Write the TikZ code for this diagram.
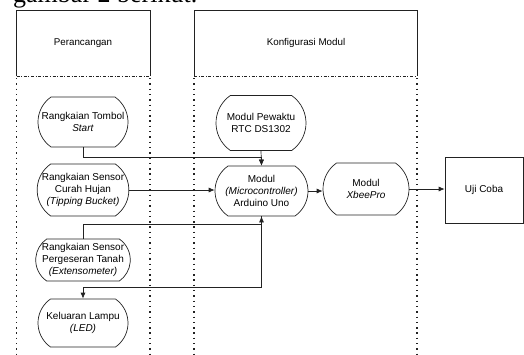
\documentclass[tikz,border=0pt]{standalone}
\usepackage{fontspec}
\setmainfont{Liberation Sans}
\newfontfamily\judulFont{Liberation Serif}
\usetikzlibrary{arrows.meta,calc,shapes.misc}
\definecolor{GarisHitam}{HTML}{222222}

\begin{document}
\begin{tikzpicture}[x=1pt,y=-1pt,
    proses/.style={draw=GarisHitam,line width=.7pt,rounded rectangle,rounded rectangle arc length=110,minimum width=90pt,minimum height=50pt,align=center,inner xsep=0pt,inner ysep=1pt,font=\fontsize{10}{12}\selectfont},
    alur/.style={-{Latex[length=6pt,width=5pt]},line width=.7pt,draw=GarisHitam},
    laneDot/.style={line width=1.8pt,dash pattern=on 1.4pt off 3.9pt,draw=GarisHitam},
    laneHead/.style={line width=.9pt,dash pattern=on 3pt off 1.6pt on 1pt off 1.6pt,draw=GarisHitam}]
    \useasboundingbox (0,0) rectangle (524,354);
    \clip (0,0) rectangle (524,354);
    % teks di atas gambar
    \node[anchor=base west,inner sep=0pt,font=\judulFont\fontsize{26}{30}\selectfont] (judul) at (13,2) {gambar 2 berikut.};
    % kolom perancangan dan konfigurasi
    \foreach \kiri/\kanan in {16.5/150,194/417}
    {
        \draw[line width=.7pt,GarisHitam] (\kiri,76) -- (\kiri,10) -- (\kanan,10) -- (\kanan,76);
        \draw[laneHead] (\kiri,76) -- (\kanan,76);
        \draw[laneDot] (\kiri,78) -- (\kiri,356);
        \draw[laneDot] (\kanan,78) -- (\kanan,356);
    }
    \node[font=\fontsize{9.8}{11}\selectfont] (hPerancangan) at (83,43) {Perancangan};
    \node[font=\fontsize{9.8}{11}\selectfont] (hKonfigurasi) at (306,43) {Konfigurasi Modul};
    % blok
    \node[proses] (tombol) at (83,122) {Rangkaian Tombol\\\textit{Start}};
    \node[proses,minimum height=52pt] (curah) at (83,190) {Rangkaian Sensor\\Curah Hujan\\\textit{(Tipping Bucket)}};
    \node[proses,minimum height=42pt] (geser) at (83,260) {Rangkaian Sensor\\Pergeseran Tanah\\\textit{(Extensometer)}};
    \node[proses,minimum height=48pt] (led) at (83,323) {Keluaran Lampu\\\textit{(LED)}};
    \node[proses,minimum height=55pt] (rtc) at (261,123) {Modul Pewaktu\\RTC DS1302};
    \node[proses,minimum width=93pt] (arduino) at (261.5,191) {Modul\\\textit{(Microcontroller)}\\Arduino Uno};
    \node[proses,minimum width=86pt,minimum height=52pt] (xbee) at (366,189) {Modul\\\textit{XbeePro}};
    \node[draw=GarisHitam,line width=.7pt,minimum width=78pt,minimum height=66pt,font=\fontsize{10}{12}\selectfont] (uji) at (484,190) {Uji Coba};
    % titik belok
    \coordinate (jTop) at (261.5,157);
    \coordinate (jMid) at (261.5,224);
    \coordinate (jLow) at (261.5,287);
    % alur
    \draw[alur] (tombol.south) |- (jTop) -- (arduino.north);
    \draw[alur] (rtc.south) -- (arduino.north);
    \draw[alur] (curah.east) -- (arduino.west |- curah.east);
    \draw[alur] (geser.north) |- (jMid) -- (arduino.south);
    \draw[alur] (arduino.south) -- (jLow) -| (led.north);
    \draw[alur] (arduino.east) -- (xbee.west |- arduino.east);
    \draw[alur] (xbee.east) -- (uji.west |- xbee.east);
\end{tikzpicture}
\end{document}
